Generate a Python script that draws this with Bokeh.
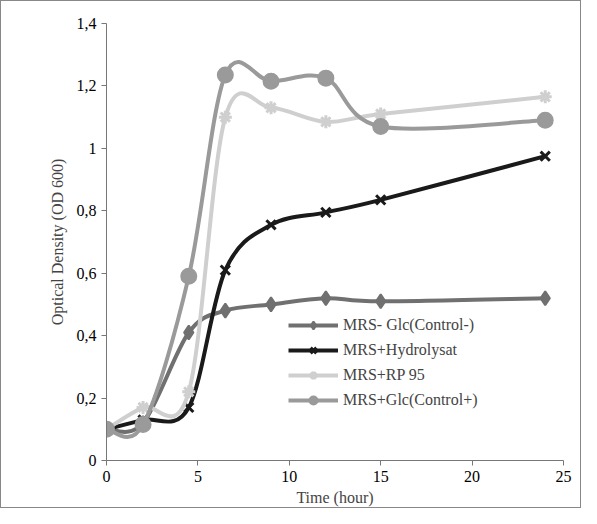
from bokeh.plotting import figure
from bokeh.models import CustomJSTickFormatter, Legend, LegendItem
from bokeh.embed import file_html
from bokeh.resources import INLINE

hours = [0, 2, 4.5, 6.5, 9, 12, 15, 24]
ctrl_minus = [0.10, 0.12, 0.41, 0.48, 0.50, 0.52, 0.51, 0.52]
hydrolysat = [0.10, 0.13, 0.17, 0.61, 0.755, 0.795, 0.835, 0.975]
rp95 = [0.10, 0.17, 0.22, 1.10, 1.13, 1.085, 1.11, 1.165]
ctrl_plus = [0.10, 0.115, 0.59, 1.235, 1.215, 1.225, 1.07, 1.09]

FONT = "Liberation Serif"

p = figure(width=581, height=508, x_range=(0, 25), y_range=(0, 1.4),
           output_backend="svg", toolbar_location=None,
           min_border_left=105, min_border_top=22, min_border_bottom=49, min_border_right=19)
p.styles = {"border": "1px solid #888"}
p.outline_line_color = None
p.xgrid.visible = False
p.ygrid.visible = False
p.xaxis.ticker = [0, 5, 10, 15, 20, 25]
p.yaxis.ticker = [0, 0.2, 0.4, 0.6, 0.8, 1.0, 1.2, 1.4]
p.yaxis.formatter = CustomJSTickFormatter(code="return String(Math.round(tick*10)/10).replace('.', ',');")
for ax in (p.xaxis, p.yaxis):
    ax.major_label_text_font = FONT
    ax.major_label_text_font_size = "16px"
    ax.major_label_text_color = "#000"
    ax.axis_label_text_font = FONT
    ax.axis_label_text_font_size = "16px"
    ax.axis_label_text_font_style = "normal"
    ax.axis_line_color = "#777"
    ax.major_tick_line_color = "#777"
    ax.minor_tick_line_color = None
    ax.major_tick_in = 0
    ax.major_tick_out = 5
p.xaxis.axis_label = "Time (hour)"
p.yaxis.axis_label = "Optical Density (OD 600)"
p.xaxis.axis_label_standoff = 4
p.yaxis.axis_label_standoff = 8


def smooth(x, y):
    # Catmull-Rom style control points for Excel-like smoothed lines
    n = len(x)
    x0, y0, x1, y1, cx0, cy0, cx1, cy1 = [], [], [], [], [], [], [], []
    for i in range(n - 1):
        xp, yp = (x[i - 1], y[i - 1]) if i > 0 else (x[i], y[i])
        xn, yn = (x[i + 2], y[i + 2]) if i + 2 < n else (x[i + 1], y[i + 1])
        x0.append(x[i]); y0.append(y[i]); x1.append(x[i + 1]); y1.append(y[i + 1])
        cx0.append(x[i] + (x[i + 1] - xp) / 6); cy0.append(y[i] + (y[i + 1] - yp) / 6)
        cx1.append(x[i + 1] - (xn - x[i]) / 6); cy1.append(y[i + 1] - (yn - y[i]) / 6)
    return dict(x0=x0, y0=y0, x1=x1, y1=y1, cx0=cx0, cy0=cy0, cx1=cx1, cy1=cy1)


series = [
    ("MRS- Glc(Control-)", ctrl_minus, "#707070", "diamond", 14, 2),
    ("MRS+Hydrolysat", hydrolysat, "#1a1a1a", "x", 13, 3),
    ("MRS+RP 95", rp95, "#cfcfcf", "asterisk", 13, 3),
    ("MRS+Glc(Control+)", ctrl_plus, "#9a9a9a", "circle", 15, 2),
]

items = []
for label, ys, color, marker, size, lw in series:
    b = p.bezier(line_color=color, line_width=4, **smooth(hours, ys))
    m = p.scatter(hours, ys, marker=marker, size=size, fill_color=color,
                  line_color=color, line_width=lw)
    items.append(LegendItem(label=label, renderers=[b, m]))

legend = Legend(items=items, location=(182, 50), background_fill_alpha=0,
                border_line_color=None, label_text_font=FONT,
                label_text_font_size="16px", glyph_width=50, spacing=5, padding=2)
p.add_layout(legend)

open("out.html", "w").write(file_html(p, INLINE))
